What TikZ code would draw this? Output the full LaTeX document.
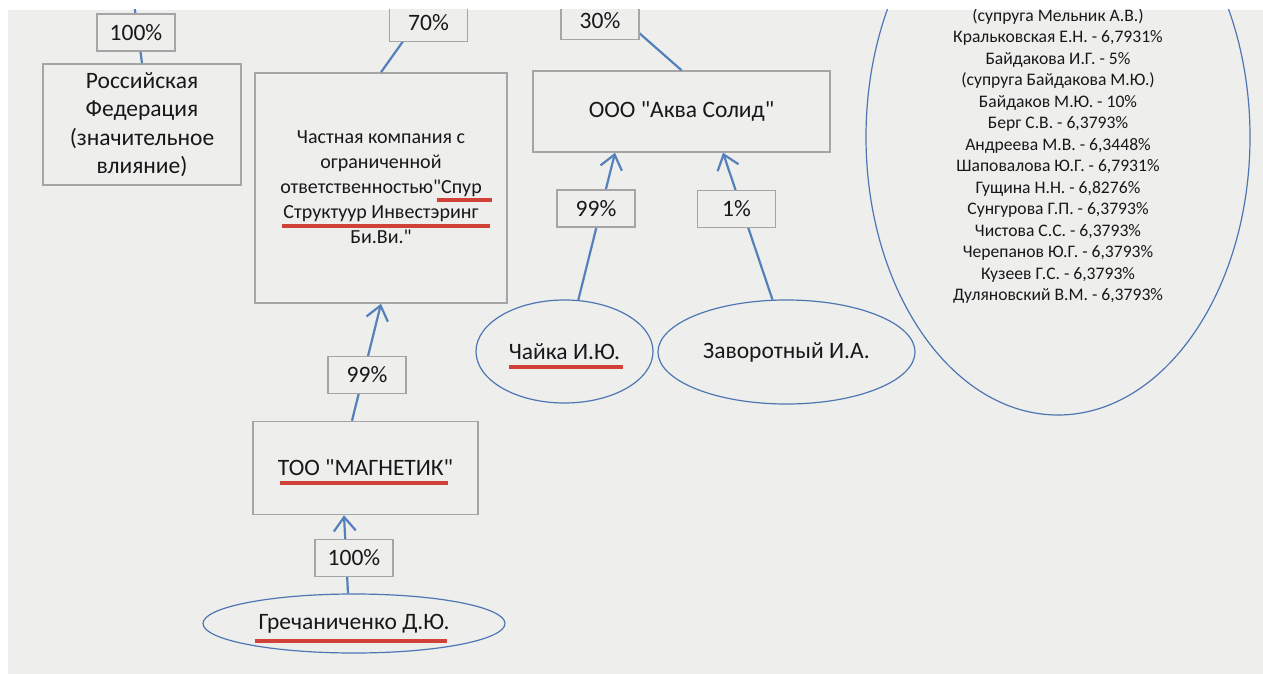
\documentclass[tikz,border=0pt]{standalone}
\usepackage{fontspec}
\setmainfont{Carlito}[Ligatures=TeXOff]
\usetikzlibrary{arrows.meta,shapes.geometric}
\definecolor{bg}{RGB}{238,238,237}
\definecolor{boxline}{RGB}{165,165,165}
\definecolor{conncol}{RGB}{84,128,188}
\definecolor{ellcol}{RGB}{78,118,178}
\definecolor{ulcol}{RGB}{208,66,56}
\definecolor{txt}{RGB}{24,24,24}
\begin{document}
\begin{tikzpicture}[x=1pt,y=-1pt,
  lbl/.style={draw=boxline, line width=1.5pt, fill=bg, inner sep=0pt,
    minimum width=78pt, minimum height=37pt, font=\fontsize{23.5}{27}\selectfont, text=txt},
  bigbox/.style={draw=boxline, line width=1.5pt, fill=bg, inner sep=0pt, align=center, text=txt},
  person/.style={ellipse, draw=ellcol, line width=1.2pt, inner sep=0pt, text=txt, align=center},
  conn/.style={draw=conncol, line width=2.2pt},
  own/.style={conn, -{Straight Barb[length=14pt,width=22pt]}},
  redline/.style={draw=ulcol, line width=3.5pt}
]
\useasboundingbox (0,0) rectangle (1263,674);
\fill[white] (0,0) rectangle (1263,674);
\fill[bg] (8,10) rectangle (1263,674);
\begin{scope}
\clip (8,10) rectangle (1263,674);

% main boxes
\node[bigbox, minimum width=198pt, minimum height=121pt, font=\fontsize{23.5}{28.5}\selectfont]
  (rf) at (142,124.5) {Российская\\Федерация\\(значительное\\влияние)};
\node[bigbox, minimum width=252pt, minimum height=230pt, font=\fontsize{20}{25}\selectfont]
  (spur) at (381,188) {\raisebox{-4pt}{\begin{tabular}{@{}c@{}}Частная компания с\\ограниченной\\ответственностью"Спур\\Структуур Инвестэринг\\Би.Ви."\end{tabular}}};
\node[bigbox, minimum width=297pt, minimum height=81pt, font=\fontsize{23.5}{27}\selectfont]
  (aqua) at (681.5,111.5) {ООО "Аква Солид"};
\node[bigbox, minimum width=225pt, minimum height=93pt, font=\fontsize{23.5}{27}\selectfont]
  (magn) at (365.5,468) {ТОО "МАГНЕТИК"};

% persons
\node[person, minimum width=177pt, minimum height=103pt, font=\fontsize{23.5}{27}\selectfont]
  (chayka) at (564.5,351.5) {Чайка И.Ю.};
\node[person, minimum width=257pt, minimum height=104pt, font=\fontsize{23.5}{27}\selectfont]
  (zav) at (786.5,352) {Заворотный И.А.};
\node[person, minimum width=302pt, minimum height=59pt, font=\fontsize{23.5}{27}\selectfont]
  (grech) at (354,623.5) {Гречаниченко Д.Ю.};
\node[person, minimum width=384pt, minimum height=556pt] (big) at (1058,137) {};
\node[align=center, inner sep=0pt, text=txt, font=\fontsize{17.6}{21.5}\selectfont]
  (bigtxt) at (1058,156) {(супруга Мельник А.В.)\\Кральковская Е.Н. - 6,7931\%\\Байдакова И.Г. - 5\%\\(супруга Байдакова М.Ю.)\\Байдаков М.Ю. - 10\%\\Берг С.В. - 6,3793\%\\Андреева М.В. - 6,3448\%\\Шаповалова Ю.Г. - 6,7931\%\\Гущина Н.Н. - 6,8276\%\\Сунгурова Г.П. - 6,3793\%\\Чистова С.С. - 6,3793\%\\Черепанов Ю.Г. - 6,3793\%\\Кузеев Г.С. - 6,3793\%\\Дуляновский В.М. - 6,3793\%};

% free ends of connectors leaving the picture
\coordinate (rfup) at (131,-20);
\coordinate (spurup) at (425.3,10);
\coordinate (aquaup) at (613,10);

% connectors
\draw[conn] (rf.north) -- (rfup);
\draw[conn] (spur.north) -- (spurup);
\draw[conn] (aqua.north) -- (aquaup);
\draw[own] (chayka.75) -- ([xshift=-66.5pt]aqua.south);
\draw[own] (zav.105) -- ([xshift=41.5pt]aqua.south);
\draw[own] ([xshift=-13.5pt]magn.north) -- (spur.south);
\draw[own] ([xshift=-6pt]grech.north) -- ([xshift=-21.5pt]magn.south);

% percentage labels
\node[lbl] (p100a) at (136,32.5) {100\%};
\node[lbl] (p70) at (428.5,23) {70\%};
\node[lbl] (p30) at (600,21) {30\%};
\node[lbl] (p99a) at (596,208.5) {99\%};
\node[lbl] (p1) at (736.5,209) {1\%};
\node[lbl] (p99b) at (367,375) {99\%};
\node[lbl] (p100b) at (354,558) {100\%};

% red underlines
\draw[redline] (437,200) -- (492,200);
\draw[redline] (282,226) -- (490,226);
\draw[redline] (509,367) -- (623,367);
\draw[redline] (280,483) -- (448,483);
\draw[redline] (255,641) -- (447,641);
\end{scope}
\end{tikzpicture}
\end{document}
